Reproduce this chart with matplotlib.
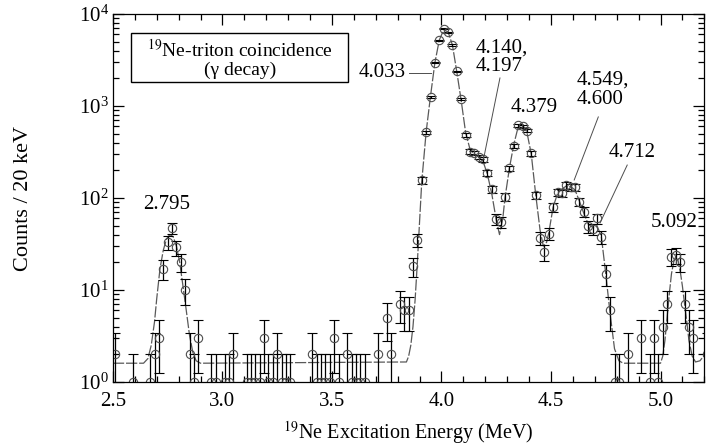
import matplotlib
matplotlib.use("Agg")
import matplotlib.pyplot as plt
import numpy as np
from matplotlib.ticker import MultipleLocator, LogLocator, LogFormatterMathtext, NullFormatter
from matplotlib.patches import Rectangle

plt.rcParams['font.family'] = ['Liberation Serif', 'DejaVu Serif']
plt.rcParams['mathtext.fontset'] = 'stix'

# measured spectrum: bin centre (MeV) and counts per 20 keV
energy = [2.51, 2.59, 2.67, 2.69, 2.71, 2.73, 2.75, 2.77, 2.79, 2.81, 2.83, 2.85, 2.87, 2.89,
          2.95, 2.97, 3.01, 3.03, 3.05, 3.11, 3.13, 3.15, 3.17, 3.19, 3.21, 3.23, 3.25, 3.27,
          3.29, 3.31, 3.41, 3.43, 3.45, 3.47, 3.49, 3.51, 3.53, 3.57, 3.59, 3.61, 3.63, 3.65,
          3.71, 3.75, 3.77, 3.81, 3.83, 3.85, 3.87, 3.89, 3.91, 3.93, 3.95, 3.97, 3.99, 4.01,
          4.03, 4.05, 4.07, 4.09, 4.11, 4.13, 4.15, 4.17, 4.19, 4.21, 4.23, 4.25, 4.27, 4.29,
          4.31, 4.33, 4.35, 4.37, 4.39, 4.41, 4.43, 4.45, 4.47, 4.49, 4.51, 4.53, 4.55, 4.57,
          4.59, 4.61, 4.63, 4.65, 4.67, 4.69, 4.71, 4.73, 4.75, 4.77, 4.79, 4.81, 4.85, 4.91,
          4.95, 4.97, 4.99, 5.01, 5.03, 5.05, 5.07, 5.09, 5.11, 5.13, 5.15, 5.21]
counts = [2, 1, 1, 2, 3, 17, 33, 47, 29, 20, 10, 2, 1, 3,
          1, 1, 1, 1, 2, 1, 1, 1, 1, 3, 1, 1, 2, 1,
          1, 1, 2, 1, 1, 1, 1, 3, 1, 2, 1, 1, 1, 1,
          2, 5, 2, 7, 6, 6, 18, 35, 155, 518, 1250, 2960, 5150, 6900,
          6300, 4600, 2370, 1190, 485, 319, 310, 280, 265, 186, 124, 59, 55, 103,
          210, 370, 615, 600, 540, 305, 107, 37, 26, 41, 80, 115, 112, 138,
          130, 131, 91, 71, 49, 46, 60, 38, 15, 6, 1, 1, 2, 3,
          1, 3, 1, 4, 7, 23, 24, 20, 7, 4, 3, 2]

# fitted curve
fit_e = [2.50, 2.64, 2.66, 2.675, 2.69, 2.70, 2.715, 2.73, 2.745, 2.76, 2.775, 2.79, 2.805,
         2.82, 2.835, 2.85, 2.865, 2.88, 2.90, 3.84, 3.85, 3.86, 3.87, 3.88, 3.89, 3.90, 3.91,
         3.93, 3.95, 3.97, 3.99, 4.01, 4.03, 4.05, 4.07, 4.09, 4.11, 4.13, 4.15, 4.17, 4.19,
         4.21, 4.23, 4.25, 4.265, 4.28, 4.29, 4.31, 4.33, 4.35, 4.365, 4.38, 4.39, 4.41, 4.43,
         4.45, 4.465, 4.48, 4.49, 4.51, 4.53, 4.55, 4.57, 4.59, 4.61, 4.63, 4.65, 4.67, 4.69,
         4.71, 4.73, 4.75, 4.77, 4.79, 4.81, 4.83, 5.00, 5.01, 5.02, 5.03, 5.04, 5.05, 5.065,
         5.08, 5.09, 5.10, 5.11, 5.12, 5.13, 5.145, 5.16, 5.18, 5.20, 5.21]
fit_c = [1.6, 1.6, 1.8, 2.5, 4.5, 8, 17, 27, 36, 40, 38, 30, 20,
         11, 6, 3.2, 2.1, 1.7, 1.6, 1.65, 1.9, 2.5, 4, 8, 20, 55, 150,
         520, 1280, 2950, 5200, 6700, 6400, 4600, 2350, 1150, 520, 340, 300, 280, 250,
         180, 110, 58, 40, 60, 100, 210, 380, 590, 620, 580, 520, 300, 110,
         45, 30, 33, 42, 80, 112, 125, 135, 133, 122, 92, 68, 52, 48,
         50, 38, 15, 5.5, 2.3, 1.7, 1.6, 1.6, 1.9, 2.8, 5, 9, 15, 23,
         21, 16, 11, 7, 4.5, 2.8, 1.9, 1.65, 1.7, 1.95, 2.1]

energy = np.array(energy)
counts = np.array(counts, dtype=float)

fig = plt.figure(figsize=(7.1, 4.45), dpi=100)
ax = fig.add_axes([0.159, 0.1416, 0.833, 0.827])

ax.plot(fit_e, fit_c, color='0.35', lw=0.9, ls=(0, (9, 1.5)), zorder=1)
ax.errorbar(energy, counts, yerr=np.sqrt(counts), fmt='o', mfc='none', mec='0.3',
            ms=6, mew=0.8, ecolor='k', elinewidth=0.9, capsize=3.3, capthick=0.9, zorder=2)

ax.set_yscale('log')
ax.set_xlim(2.5, 5.2)
ax.set_ylim(1, 1e4)

ax.xaxis.set_major_locator(MultipleLocator(0.5))
ax.xaxis.set_minor_locator(MultipleLocator(0.1))
ax.xaxis.set_major_formatter(matplotlib.ticker.FormatStrFormatter('%.1f'))
ax.yaxis.set_major_locator(LogLocator(base=10))
ax.yaxis.set_major_formatter(LogFormatterMathtext())
ax.yaxis.set_minor_locator(LogLocator(base=10, subs=np.arange(2, 10)))
ax.yaxis.set_minor_formatter(NullFormatter())
ax.tick_params(which='both', direction='in', top=True, right=True, labelsize=15, width=0.9)
ax.tick_params(which='major', length=8)
ax.tick_params(which='minor', length=4)
ax.tick_params(axis='y', pad=3)
ax.tick_params(axis='x', pad=7)
for s in ax.spines.values():
    s.set_linewidth(0.9)

ax.set_ylabel('Counts / 20 keV', fontsize=16)
ax.yaxis.set_label_coords(-0.135, 0.5)
ax.set_xlabel('$^{19}$Ne Excitation Energy (MeV)', fontsize=14.5)
ax.xaxis.set_label_coords(0.5, -0.1)

# legend-style box
ax.add_patch(Rectangle((0.0305, 0.815), 0.367, 0.133, transform=ax.transAxes,
                       fill=False, ec='k', lw=1.0))
ax.text(0.215, 0.902, '$^{19}$Ne-triton coincidence', transform=ax.transAxes,
        ha='center', va='center', fontsize=14)
ax.text(0.215, 0.848, '(γ decay)', transform=ax.transAxes,
        ha='center', va='center', fontsize=14)

# state labels
lab = dict(fontsize=15, color='k')
ax.text(2.747, 85, '2.795', ha='center', va='center', **lab)
ax.text(3.835, 2300, '4.033', ha='right', va='center', **lab)
ax.plot([3.851, 3.951], [2300, 2300], color='0.3', lw=0.7)
ax.text(4.155, 3400, '4.140,\n4.197', ha='left', va='center', linespacing=1.0, **lab)
ax.plot([4.267, 4.194], [2015, 279], color='0.3', lw=0.7)
ax.text(4.423, 951, '4.379', ha='center', va='center', **lab)
ax.text(4.615, 1493, '4.549,\n4.600', ha='left', va='center', linespacing=1.05, **lab)
ax.plot([4.716, 4.606], [760, 157], color='0.3', lw=0.7)
ax.text(4.871, 316, '4.712', ha='center', va='center', **lab)
ax.plot([4.848, 4.724], [228, 53.5], color='0.3', lw=0.7)
ax.text(5.063, 53.5, '5.092', ha='center', va='center', **lab)

fig.savefig('out.png', dpi=100)
